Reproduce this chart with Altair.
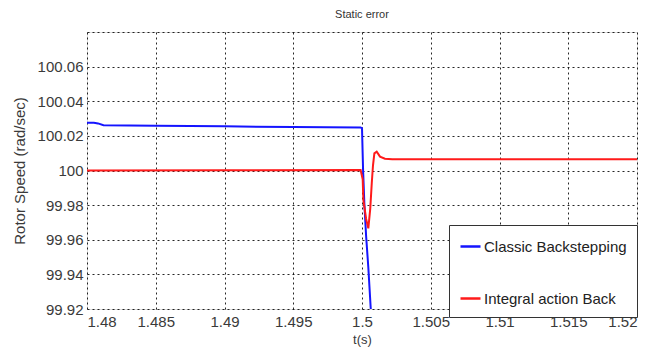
import altair as alt
import pandas as pd

# Classic Backstepping (blue)
blue_t = [1.48, 1.4805, 1.4808, 1.4812, 1.485, 1.49, 1.495, 1.4999, 1.5,
          1.50008, 1.50017, 1.5003, 1.50046, 1.50063, 1.5008]
blue_v = [100.0276, 100.0276, 100.0272, 100.0262, 100.0259, 100.0255, 100.0251, 100.0248, 100.0245,
          100.0, 99.981, 99.962, 99.944, 99.921, 99.90]

# Integral action Back (red)
red_t = [1.48, 1.49, 1.4999, 1.50005, 1.5001, 1.5003, 1.50046, 1.5006, 1.50071,
         1.5008, 1.5009, 1.50107, 1.50131, 1.50167, 1.5022, 1.51, 1.52]
red_v = [100.0, 100.0001, 100.0003, 99.995, 99.983, 99.972, 99.9666, 99.978, 99.9926,
         100.003, 100.0099, 100.0109, 100.008, 100.0068, 100.0065, 100.0065, 100.0065]

series_names = ["Classic Backstepping", "Integral action Back"]
series_colors = ["#1414ff", "#ff1a1a"]

y_ticks = [99.92, 99.94, 99.96, 99.98, 100.0, 100.02, 100.04, 100.06, 100.08]
x_ticks = [1.48, 1.485, 1.49, 1.495, 1.5, 1.505, 1.51, 1.515, 1.52]

df = pd.concat([
    pd.DataFrame({"t": blue_t, "v": blue_v, "series": series_names[0], "order": range(len(blue_t))}),
    pd.DataFrame({"t": red_t, "v": red_v, "series": series_names[1], "order": range(len(red_t))}),
])

font = "Liberation Sans"

chart = alt.Chart(df).mark_line(strokeWidth=2, clip=True).encode(
    x=alt.X("t:Q",
            scale=alt.Scale(domain=[1.48, 1.52], nice=False, zero=False),
            axis=alt.Axis(values=x_ticks, title="t(s)",
                          labelExpr="format(datum.value, '.3~f')",
                          grid=True, gridDash=[2, 3], gridColor="#000000", gridOpacity=0.85,
                          domain=False, ticks=False, labelPadding=5,
                          labelFontSize=15, labelColor="#3a3a3a", labelFont=font,
                          titleFont=font, titleFontSize=13, titleFontWeight="normal",
                          titleColor="#3a3a3a", titlePadding=4)),
    y=alt.Y("v:Q",
            scale=alt.Scale(domain=[99.92, 100.08], nice=False, zero=False),
            axis=alt.Axis(values=y_ticks, title="Rotor Speed (rad/sec)",
                          labelExpr="datum.value > 100.07 ? '' : (abs(datum.value - 100) < 1e-9 ? '100' : format(datum.value, '.2f'))",
                          grid=True, gridDash=[2, 3], gridColor="#000000", gridOpacity=0.85,
                          domain=False, ticks=False, labelPadding=4,
                          labelFontSize=15, labelColor="#3a3a3a", labelFont=font,
                          titleFont=font, titleFontSize=15, titleFontWeight="normal",
                          titleColor="#3a3a3a", titlePadding=10)),
    color=alt.Color("series:N",
                    scale=alt.Scale(domain=series_names, range=series_colors),
                    legend=alt.Legend(title=None, orient="none", legendX=362, legendY=193,
                                      symbolType="stroke", symbolStrokeWidth=2.5, symbolSize=400,
                                      labelFont=font, labelFontSize=15, labelColor="#222222",
                                      labelOffset=2, padding=10, rowPadding=32,
                                      strokeColor="#333333", fillColor="#ffffff",
                                      labelLimit=300)),
    order="order:Q",
).properties(
    width=550, height=277,
    title=alt.TitleParams("Static error", font=font, fontSize=11, fontWeight="normal",
                          color="#333333", offset=12),
    padding={"left": 87, "top": 32, "right": 17, "bottom": 42},
    autosize=alt.AutoSizeParams(type="none"),
).configure_view(
    stroke="#333333", strokeWidth=1.2
).configure(background="#ffffff")

chart.save("out.html", embed_options={"renderer": "svg", "actions": False})
